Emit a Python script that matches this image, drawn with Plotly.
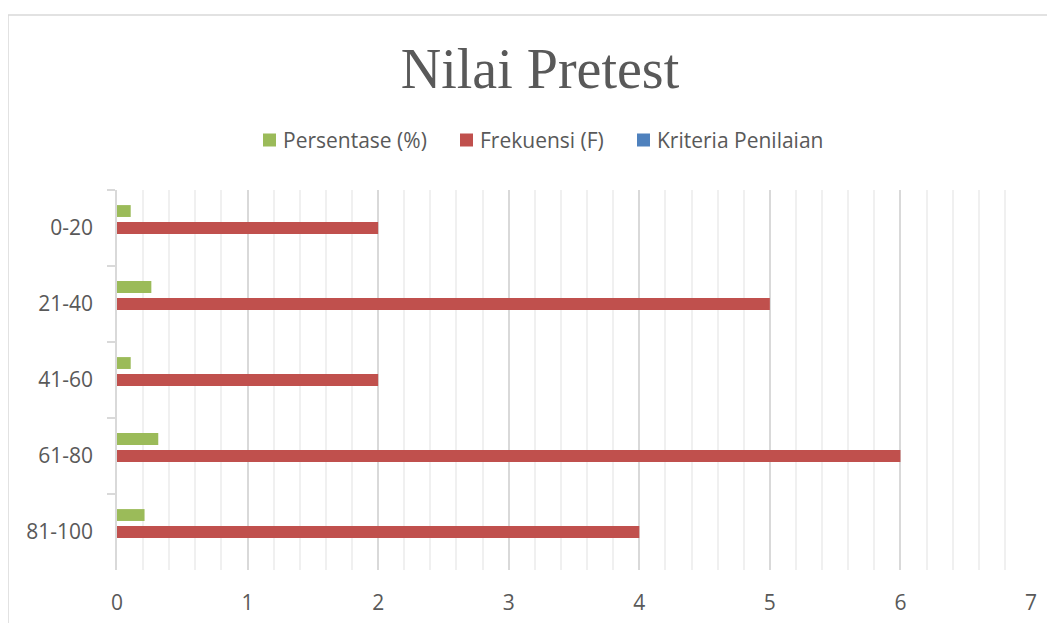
import plotly.graph_objects as go

categories = ["0-20", "21-40", "41-60", "61-80", "81-100"]
persentase = [0.105, 0.263, 0.105, 0.316, 0.211]
frekuensi = [2, 5, 2, 6, 4]
kriteria = [0, 0, 0, 0, 0]
x_ticks = [0, 1, 2, 3, 4, 5, 6, 7]
series_names = ["Persentase (%)", "Frekuensi (F)", "Kriteria Penilaian"]
series_colors = ["#9bbb59", "#c0504d", "#4f81bd"]

OFF = 8  # page body margin
W, H = 1055 - OFF, 623 - OFF
L, T = 117 - OFF, 190 - OFF
R, B = W - (1031 - OFF), H - (570 - OFF)
pw, ph = W - L - R, H - T - B


def px(sx):
    return (sx - OFF - L) / pw


def py(sy):
    return (H - B - (sy - OFF)) / ph


fig = go.Figure()
for name, vals, col in zip(series_names, [persentase, frekuensi, kriteria], series_colors):
    fig.add_trace(go.Bar(y=categories, x=vals, orientation="h", name=name,
                         marker=dict(color=col, line=dict(width=0)), showlegend=False))

font_family = "Open Sans"
txt = "#595959"

fig.update_layout(
    width=W, height=H,
    margin=dict(l=L, r=R, t=T, b=B, autoexpand=False),
    paper_bgcolor="white", plot_bgcolor="white",
    barmode="group", bargap=0.33, bargroupgap=0.3,
    font=dict(family=font_family, color=txt, size=20),
    title=dict(text="Nilai Pretest", xref="container", yref="container",
               x=(540 - OFF) / W, y=1 - (68 - OFF) / H, xanchor="center", yanchor="middle",
               font=dict(family="Liberation Serif", size=56, color=txt)),
    showlegend=False,
)

fig.update_xaxes(
    range=[0, 7], tickvals=x_ticks, showgrid=True, gridcolor="#d9d9d9", gridwidth=1.5,
    minor=dict(dtick=0.2, showgrid=True, gridcolor="#f0f0f0", gridwidth=1.5),
    zeroline=False, showline=False, ticks="", ticklabelstandoff=18,
    tickfont=dict(size=21, color=txt, family=font_family), fixedrange=True,
)
fig.update_yaxes(
    autorange="reversed", showgrid=False, zeroline=False,
    showline=True, linecolor="#d9d9d9", linewidth=1.5,
    ticks="outside", tickson="boundaries", ticklen=8, tickcolor="#d9d9d9", tickwidth=1.5,
    ticklabelstandoff=18,
    tickfont=dict(size=21, color=txt, family=font_family),
)

# chart area border (partially visible, cropped)
fig.add_shape(type="rect", xref="paper", yref="paper",
              x0=px(8), x1=1.3, y0=-0.5, y1=py(15),
              line=dict(color="#d9d9d9", width=1.5), fillcolor="rgba(0,0,0,0)", layer="below")

# legend (manual, to match square swatches and spacing)
legend_x = [263, 460, 637]
legend_y = 140
sq = 13
for sx, name, col in zip(legend_x, series_names, series_colors):
    fig.add_shape(type="rect", xref="paper", yref="paper",
                  x0=px(sx), x1=px(sx + sq), y0=py(legend_y + sq / 2), y1=py(legend_y - sq / 2),
                  line=dict(width=0), fillcolor=col)
    fig.add_annotation(xref="paper", yref="paper", x=px(sx + sq + 5), y=py(legend_y),
                       xanchor="left", yanchor="middle", showarrow=False, text=name,
                       font=dict(size=21, color=txt, family=font_family))

fig.write_html("out.html")
